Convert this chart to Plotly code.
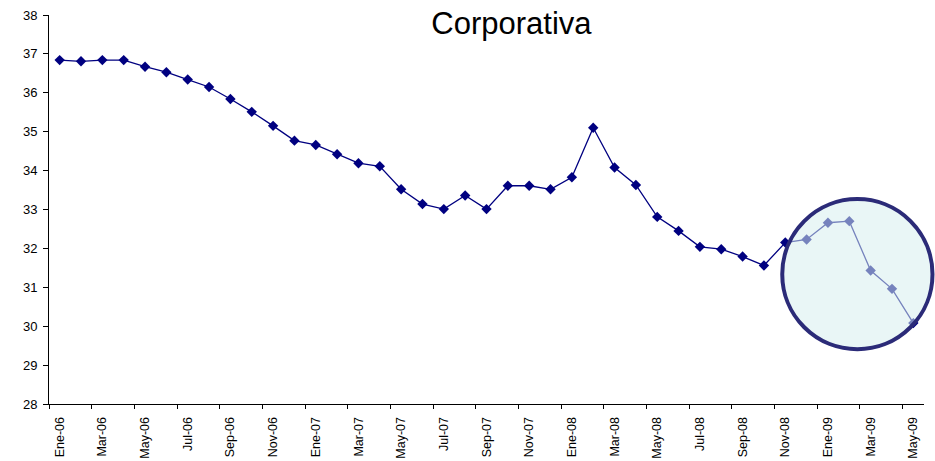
import plotly.graph_objects as go

months = ["Ene-06", "Feb-06", "Mar-06", "Abr-06", "May-06", "Jun-06", "Jul-06", "Ago-06",
          "Sep-06", "Oct-06", "Nov-06", "Dic-06",
          "Ene-07", "Feb-07", "Mar-07", "Abr-07", "May-07", "Jun-07", "Jul-07", "Ago-07",
          "Sep-07", "Oct-07", "Nov-07", "Dic-07",
          "Ene-08", "Feb-08", "Mar-08", "Abr-08", "May-08", "Jun-08", "Jul-08", "Ago-08",
          "Sep-08", "Oct-08", "Nov-08", "Dic-08",
          "Ene-09", "Feb-09", "Mar-09", "Abr-09", "May-09"]

values = [36.84, 36.81, 36.84, 36.84, 36.67, 36.53, 36.34, 36.15, 35.84, 35.51,
          35.15, 34.77, 34.66, 34.42, 34.19, 34.11, 33.52, 33.14, 33.01, 33.36,
          33.01, 33.61, 33.61, 33.52, 33.83, 35.10, 34.08, 33.63, 32.81, 32.45,
          32.04, 31.98, 31.79, 31.56, 32.15, 32.23, 32.66, 32.70, 31.43, 30.96,
          30.08]

title_text = "Corporativa"

idx = list(range(len(months)))
label_idx = idx[::2]
label_text = [months[i] for i in label_idx]
boundary_ticks = [i - 0.5 for i in label_idx]
xrange = [-0.5, len(months) - 0.5]

navy = "#000080"

fig = go.Figure()
fig.add_trace(go.Scatter(
    x=idx, y=values, mode="lines+markers",
    line=dict(color=navy, width=1.3),
    marker=dict(symbol="diamond", size=8, color=navy),
    showlegend=False, hoverinfo="skip",
))
fig.add_trace(go.Scatter(
    x=[0], y=[None], xaxis="x2", mode="markers",
    showlegend=False, hoverinfo="skip",
))

fig.update_layout(
    width=935, height=461,
    margin=dict(l=49, r=11, t=15, b=57),
    paper_bgcolor="white", plot_bgcolor="white",
    font=dict(family="Liberation Sans, Arial, sans-serif", color="black"),
    title=dict(text=title_text, x=0.547, xanchor="center", y=0.950, yanchor="middle",
               font=dict(size=31, color="black")),
    xaxis=dict(
        range=xrange, tickmode="array", tickvals=label_idx, ticktext=label_text,
        tickangle=-90, ticks="", showgrid=False, zeroline=False,
        showline=True, linecolor="black", linewidth=1,
        tickfont=dict(size=12.5), ticklabelstandoff=7, automargin=False,
    ),
    xaxis2=dict(
        overlaying="x", anchor="y", side="bottom",
        range=xrange, tickmode="array", tickvals=boundary_ticks,
        ticks="outside", ticklen=4, tickcolor="black", tickwidth=1,
        showticklabels=False, showgrid=False, zeroline=False, showline=False,
        automargin=False,
    ),
    yaxis=dict(
        range=[28, 38], dtick=1, tick0=28, ticks="outside", ticklen=5,
        tickcolor="black", showgrid=False, zeroline=False,
        showline=True, linecolor="black", linewidth=1,
        tickfont=dict(size=13), ticklabelstandoff=3, automargin=False,
    ),
    shapes=[dict(
        type="circle", xref="paper", yref="paper", layer="above",
        x0=0.838, x1=1.0097, y0=0.1407, y1=0.5267,
        line=dict(color="#2B2B78", width=4),
        fillcolor="rgba(215,238,238,0.55)",
    )],
)

fig.write_html("out.html")
